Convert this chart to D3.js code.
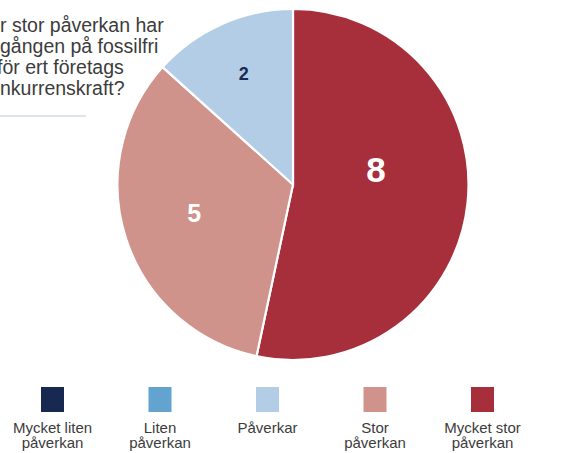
<!DOCTYPE html>
<html>
<head>
<meta charset="utf-8">
<script src="https://cdn.jsdelivr.net/npm/d3@7"></script>
<style>
  body { margin: 0; background: #fff; }
  #graf { width: 573px; height: 453px; }
  text { font-family: "Liberation Sans", Arial, sans-serif; }
</style>
</head>
<body>
<div id="graf"></div>
<script>
// Datos
const categorias = ["Mycket liten påverkan", "Liten påverkan", "Påverkar", "Stor påverkan", "Mycket stor påverkan"]
const etiquetasLeyenda = [["Mycket liten", "påverkan"], ["Liten", "påverkan"], ["Påverkar"], ["Stor", "påverkan"], ["Mycket stor", "påverkan"]]
const valores = [0, 0, 2, 5, 8]
const colores = ["#172951", "#62a3cf", "#b4cde6", "#d0938b", "#a72f3b"]
const tituloLineas = ["r stor påverkan har", "gången på fossilfri", "för ert företags", "nkurrenskraft?"]

// Dimensiones
const anchoTotal = 573
const altoTotal = 453
const cx = 293
const cy = 184.5
const radio = 175.5

const svg = d3.select("#graf")
  .append("svg")
  .attr("width", anchoTotal)
  .attr("height", altoTotal)

// Título (cortado a la izquierda)
const titulo = svg.append("g")
titulo.selectAll("text")
  .data(tituloLineas)
  .enter()
  .append("text")
  .attr("x", (d, i) => i == 2 ? -3 : 0)
  .attr("y", (d, i) => 32 + i * 21)
  .attr("font-size", 19.5)
  .attr("fill", "#3c3c3c")
  .text((d) => d)

svg.append("line")
  .attr("x1", 0).attr("x2", 86)
  .attr("y1", 116).attr("y2", 116)
  .attr("stroke", "#dde6ef")
  .attr("stroke-width", 2)

// Torta: en sentido horario desde arriba, de "Mycket stor" hacia atrás
const datos = categorias.map((c, i) => ({ cat: c, valor: valores[i], color: colores[i], idx: i }))
const orden = datos.slice().reverse().filter((d) => d.valor > 0)

const pie = d3.pie().value((d) => d.valor).sort(null)
const arc = d3.arc().innerRadius(0).outerRadius(radio)
const arcos = pie(orden)

const g = svg.append("g").attr("transform", `translate(${cx}, ${cy})`)

g.selectAll("path")
  .data(arcos)
  .enter()
  .append("path")
  .attr("d", arc)
  .attr("fill", (d) => d.data.color)
  .attr("stroke", "#fff")
  .attr("stroke-width", 2.2)

// Etiquetas
const tamFuente = d3.scaleLinear().domain([2, 5, 8]).range([18, 25, 35])
const radioEtiqueta = (v) => radio * (0.76 - 0.035 * v)
const ajusteAngulo = { 8: -16, 5: 2 }

g.selectAll("text.valor")
  .data(arcos)
  .enter()
  .append("text")
  .classed("valor", true)
  .attr("transform", (d) => {
    const a = (d.startAngle + d.endAngle) / 2 + ((ajusteAngulo[d.data.valor] || 0) * Math.PI) / 180
    const r = radioEtiqueta(d.data.valor)
    return `translate(${r * Math.sin(a)}, ${-r * Math.cos(a)})`
  })
  .attr("text-anchor", "middle")
  .attr("dy", "0.36em")
  .attr("font-weight", "bold")
  .attr("font-size", (d) => tamFuente(d.data.valor))
  .attr("fill", (d) => d.data.idx == 2 ? "#1a2a52" : "#fff")
  .text((d) => d.data.valor)

// Leyenda
const x = d3.scalePoint().domain(categorias).range([52.5, 482.5])

const leyenda = svg.append("g")
const item = leyenda.selectAll("g")
  .data(datos)
  .enter()
  .append("g")
  .attr("transform", (d) => `translate(${x(d.cat)}, 0)`)

item.append("rect")
  .attr("x", -11.5)
  .attr("y", 387)
  .attr("width", 23)
  .attr("height", 25)
  .attr("fill", (d) => d.color)

item.append("text")
  .attr("text-anchor", "middle")
  .attr("font-size", 15)
  .attr("fill", "#3c3c3c")
  .selectAll("tspan")
  .data((d) => etiquetasLeyenda[d.idx])
  .enter()
  .append("tspan")
  .attr("x", 0)
  .attr("y", (d, i) => 433 + i * 15)
  .text((d) => d)
</script>
</body>
</html>
